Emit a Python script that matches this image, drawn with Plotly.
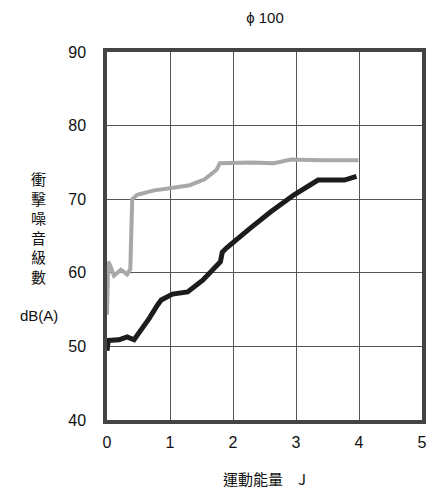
import plotly.graph_objects as go

# data
gray_x = [0.0, 0.02, 0.05, 0.11, 0.22, 0.32, 0.37, 0.40, 0.48, 0.75, 1.0, 1.31, 1.55, 1.74, 1.79, 2.28, 2.65, 2.92, 3.4, 3.99]
gray_y = [54.3, 61.5, 61.0, 59.6, 60.4, 59.8, 60.5, 70.0, 70.6, 71.2, 71.5, 71.9, 72.7, 74.0, 74.9, 75.0, 74.9, 75.4, 75.3, 75.3]

black_x = [0.0, 0.02, 0.19, 0.32, 0.43, 0.55, 0.67, 0.80, 0.86, 1.04, 1.28, 1.52, 1.74, 1.80, 1.83, 1.90, 2.28, 2.60, 2.97, 3.35, 3.77, 3.96]
black_y = [49.4, 50.8, 50.9, 51.3, 50.9, 52.3, 53.8, 55.6, 56.3, 57.1, 57.4, 59.0, 60.8, 61.5, 62.8, 63.4, 66.1, 68.3, 70.6, 72.6, 72.6, 73.1]

x_ticks = [0, 1, 2, 3, 4, 5]
y_ticks = [40, 50, 60, 70, 80, 90]

FONT = "Liberation Sans, Arial, sans-serif"
CJK = "Noto Sans CJK TC, Liberation Sans, sans-serif"
TEXT = "#111111"

fig = go.Figure()

fig.add_trace(
    go.Scatter(
        x=gray_x,
        y=gray_y,
        mode="lines",
        line=dict(color="#a8a8a8", width=4),
        showlegend=False,
    )
)

fig.add_trace(
    go.Scatter(
        x=black_x,
        y=black_y,
        mode="lines",
        line=dict(color="#1c1c1c", width=5),
        showlegend=False,
    )
)

fig.update_layout(
    width=438,
    height=488,
    margin=dict(l=107, r=16, t=52, b=68),
    paper_bgcolor="white",
    plot_bgcolor="white",
    font=dict(family=FONT, size=16, color=TEXT),
    title=dict(
        text="ϕ 100",
        x=0.605,
        xanchor="center",
        y=0.963,
        yanchor="middle",
        font=dict(family=FONT, size=15, color=TEXT),
    ),
)

fig.update_xaxes(
    range=[0, 5],
    tickvals=x_ticks,
    showgrid=True,
    gridcolor="#555555",
    gridwidth=1.3,
    showline=True,
    linecolor="#444444",
    linewidth=3.5,
    mirror=True,
    zeroline=False,
    ticks="",
    ticklabelstandoff=5,
)

fig.update_yaxes(
    range=[40, 90],
    tickvals=y_ticks,
    showgrid=True,
    gridcolor="#555555",
    gridwidth=1.3,
    showline=True,
    linecolor="#444444",
    linewidth=3.5,
    mirror=True,
    zeroline=False,
    ticks="",
    ticklabelstandoff=14,
)

# stacked vertical y-axis title
fig.add_annotation(
    text="衝<br>擊<br>噪<br>音<br>級<br>數",
    xref="paper", yref="paper",
    x=-0.216, y=0.522,
    xanchor="center", yanchor="middle",
    showarrow=False,
    font=dict(family=CJK, size=15, color=TEXT),
)
fig.add_annotation(
    text="dB(A)",
    xref="paper", yref="paper",
    x=-0.216, y=0.283,
    xanchor="center", yanchor="middle",
    showarrow=False,
    font=dict(family=FONT, size=15, color=TEXT),
)
fig.add_annotation(
    text="運動能量　J",
    xref="paper", yref="paper",
    x=0.5, y=-0.16,
    xanchor="center", yanchor="middle",
    showarrow=False,
    font=dict(family=CJK, size=15, color=TEXT),
)

fig.write_html(
    "out.html",
    config={"displayModeBar": False},
    post_script="document.body.style.margin='0';",
)
